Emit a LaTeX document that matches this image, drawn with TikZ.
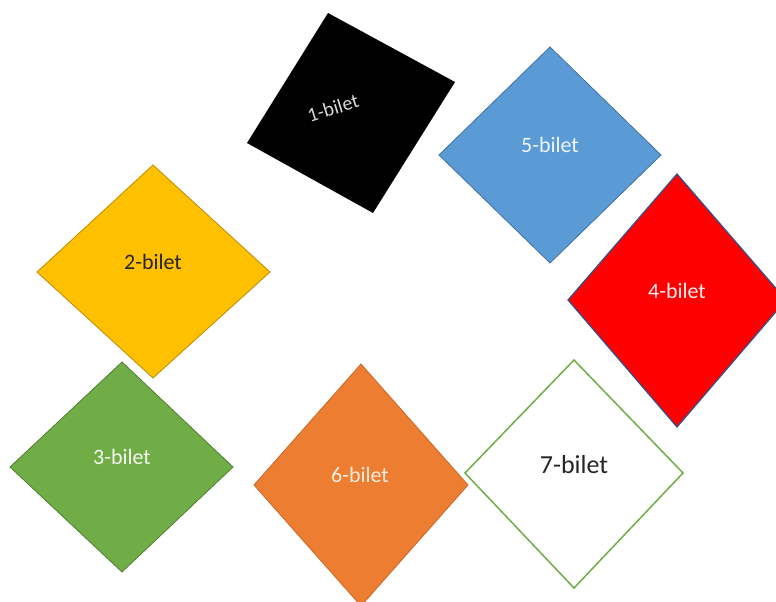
\documentclass[tikz,border=0pt]{standalone}
\usepackage{fontspec}
\setmainfont{Carlito}
\definecolor{cblue}{HTML}{5B9BD5}
\definecolor{cblueB}{HTML}{41719C}
\definecolor{cyellow}{HTML}{FFC000}
\definecolor{cyellowB}{HTML}{BC8C00}
\definecolor{cred}{HTML}{FF0000}
\definecolor{credB}{HTML}{2F528F}
\definecolor{cgreen}{HTML}{70AD47}
\definecolor{cgreenB}{HTML}{507E32}
\definecolor{corange}{HTML}{ED7D31}
\definecolor{corangeB}{HTML}{C8692A}
\definecolor{ctext}{HTML}{262626}
\tikzset{
  lbl/.style={font=\fontsize{22}{24}\selectfont, inner sep=0pt},
  tile/.style={line width=0.8pt, line join=miter},
}
\begin{document}
\begin{tikzpicture}[x=1pt,y=-1pt]
\fill[white] (0,0) rectangle (776,602);
\useasboundingbox (0,0) rectangle (776,602);
\begin{scope}
\clip (0,0) rectangle (776,602);
% 1 black rotated square
\fill[black] (328,13) -- (455,82) -- (373,213) -- (247,143) -- cycle;
% 5 blue
\draw[tile, fill=cblue, draw=cblueB] (550,47) -- (661,155) -- (550,263) -- (439,155) -- cycle;
% 2 yellow
\draw[tile, fill=cyellow, draw=cyellowB] (153,165) -- (270,272) -- (153,378) -- (37,272) -- cycle;
% 4 red
\draw[tile, line width=1.2pt, fill=cred, draw=credB] (677,174) -- (786,300) -- (677,427) -- (568,300) -- cycle;
% 3 green
\draw[tile, fill=cgreen, draw=cgreenB] (122,362) -- (233,467) -- (122,572) -- (10,467) -- cycle;
% 6 orange
\draw[tile, fill=corange, draw=corangeB] (361,364) -- (468,485) -- (361,606) -- (254,485) -- cycle;
% 7 white with green border
\draw[tile, line width=1.5pt, fill=white, draw=cgreen] (574,360) -- (683,473) -- (574,588) -- (465,473) -- cycle;
\end{scope}
\node[lbl, text=white!85!black, rotate=17, font=\fontsize{20}{22}\selectfont] (b1) at (333,108) {1-bilet};
\node[lbl, text=white!90!cblue] (b5) at (550,145) {5-bilet};
\node[lbl, text=ctext] (b2) at (153,262) {2-bilet};
\node[lbl, text=white!92!cred] (b4) at (677,291) {4-bilet};
\node[lbl, text=white!92!cgreen] (b3) at (122,457) {3-bilet};
\node[lbl, text=white!85!corange] (b6) at (360,475) {6-bilet};
\node[lbl, text=ctext, font=\fontsize{26}{28}\selectfont] (b7) at (574,465) {7-bilet};
\end{tikzpicture}
\end{document}
